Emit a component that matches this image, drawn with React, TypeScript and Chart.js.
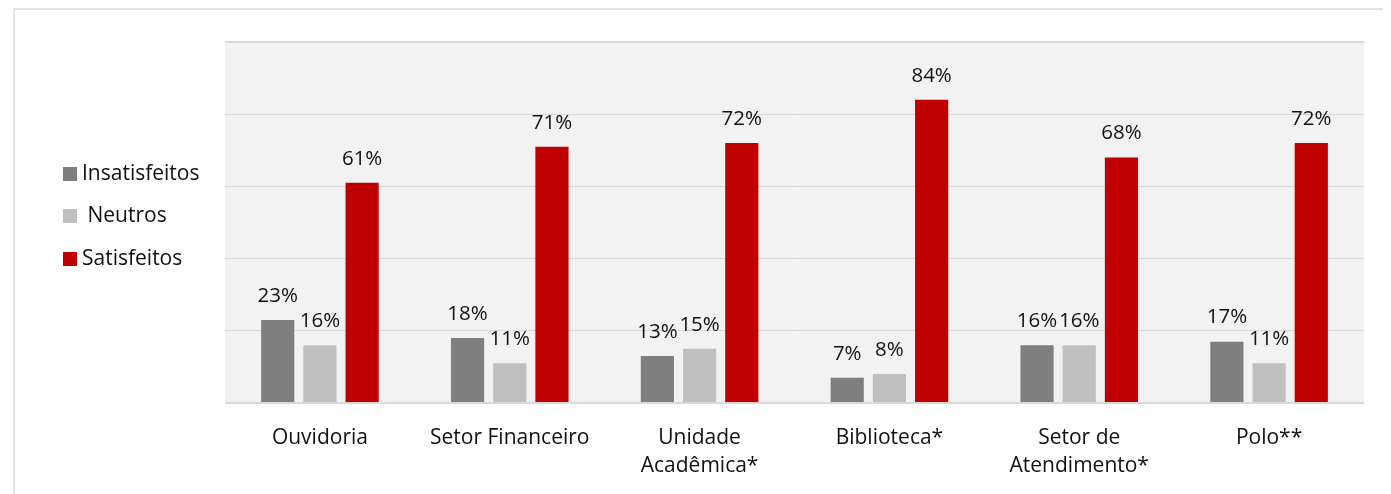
import React, { useEffect, useRef } from "react";
import { Chart, registerables } from "chart.js";

Chart.register(...registerables);

const categories: (string | string[])[] = [
  "Ouvidoria",
  "Setor Financeiro",
  ["Unidade", "Acadêmica*"],
  "Biblioteca*",
  ["Setor de", "Atendimento*"],
  "Polo**",
];
const seriesNames = ["Insatisfeitos", " Neutros", "Satisfeitos"];
const insatisfeitos = [23, 18, 13, 7, 16, 17];
const neutros = [16, 11, 15, 8, 16, 11];
const satisfeitos = [61, 71, 72, 84, 68, 72];
const yTicks = [0, 20, 40, 60, 80, 100];

const colors = ["#7f7f7f", "#bfbfbf", "#c00000"];
const FONT = "'Open Sans', sans-serif";

const bgPlugin = {
  id: "plotBg",
  beforeDraw(chart: any) {
    const { ctx, chartArea } = chart;
    ctx.save();
    ctx.fillStyle = "#f2f2f2";
    ctx.fillRect(chartArea.left, chartArea.top, chartArea.right - chartArea.left, chartArea.bottom - chartArea.top);
    ctx.restore();
  },
};

const labelPlugin = {
  id: "valueLabels",
  afterDatasetsDraw(chart: any) {
    const { ctx } = chart;
    ctx.save();
    ctx.font = `20.5px ${FONT}`;
    ctx.fillStyle = "#111";
    ctx.textAlign = "center";
    ctx.textBaseline = "middle";
    chart.data.datasets.forEach((ds: any, di: number) => {
      const meta = chart.getDatasetMeta(di);
      meta.data.forEach((bar: any, i: number) => {
        ctx.fillText(`${ds.data[i]}%`, bar.x, bar.y - 24);
      });
    });
    ctx.restore();
  },
};

const legendPlugin = {
  id: "sideLegend",
  afterDraw(chart: any) {
    const { ctx } = chart;
    const x = 48;
    const rows = [164, 206, 249];
    ctx.save();
    ctx.font = `21px ${FONT}`;
    ctx.textBaseline = "middle";
    ctx.textAlign = "left";
    chart.data.datasets.forEach((ds: any, di: number) => {
      const y = rows[di];
      ctx.fillStyle = ds.backgroundColor;
      ctx.fillRect(x, y - 7, 14, 14);
      ctx.fillStyle = "#111";
      ctx.fillText(ds.label, x + 19, y);
    });
    ctx.restore();
  },
};

export default function App() {
  const ref = useRef<HTMLCanvasElement>(null);
  useEffect(() => {
    if (!ref.current) return;
    const chart = new Chart(ref.current, {
      type: "bar",
      data: {
        labels: categories,
        datasets: [insatisfeitos, neutros, satisfeitos].map((d, i) => ({
          label: seriesNames[i],
          data: d,
          backgroundColor: colors[i],
          categoryPercentage: 0.667,
          barPercentage: 0.786,
        })),
      },
      options: {
        responsive: false,
        animation: false,
        layout: { padding: { left: 210, right: 24, top: 32, bottom: 16 } },
        plugins: {
          legend: { display: false },
          tooltip: { enabled: false },
        },
        scales: {
          x: {
            grid: { display: false, drawTicks: false },
            border: { display: false },
            ticks: {
              color: "#111",
              padding: 21,
              font: { family: FONT, size: 21, lineHeight: 28 / 21 },
              maxRotation: 0,
              autoSkip: false,
            },
          },
          y: {
            min: yTicks[0],
            max: yTicks[yTicks.length - 1],
            afterBuildTicks: (axis: any) => {
              axis.ticks = yTicks.map((v) => ({ value: v }));
            },
            ticks: { display: false },
            grid: {
              color: "#d9d9d9",
              drawTicks: false,
              lineWidth: (c: any) => (c.tick && (c.tick.value === 0 || c.tick.value === 100) ? 2 : 1),
            },
            border: { display: false },
          },
        },
      },
      plugins: [bgPlugin, labelPlugin, legendPlugin],
    });
    return () => chart.destroy();
  }, []);

  return (
    <div
      style={{
        marginLeft: 5,
        width: 1377,
        height: 530,
        border: "2px solid #e3e3e3",
        borderBottom: "none",
        boxSizing: "border-box",
        background: "#fff",
      }}
    >
      <canvas ref={ref} width={1373} height={507} style={{ display: "block" }} />
    </div>
  );
}
